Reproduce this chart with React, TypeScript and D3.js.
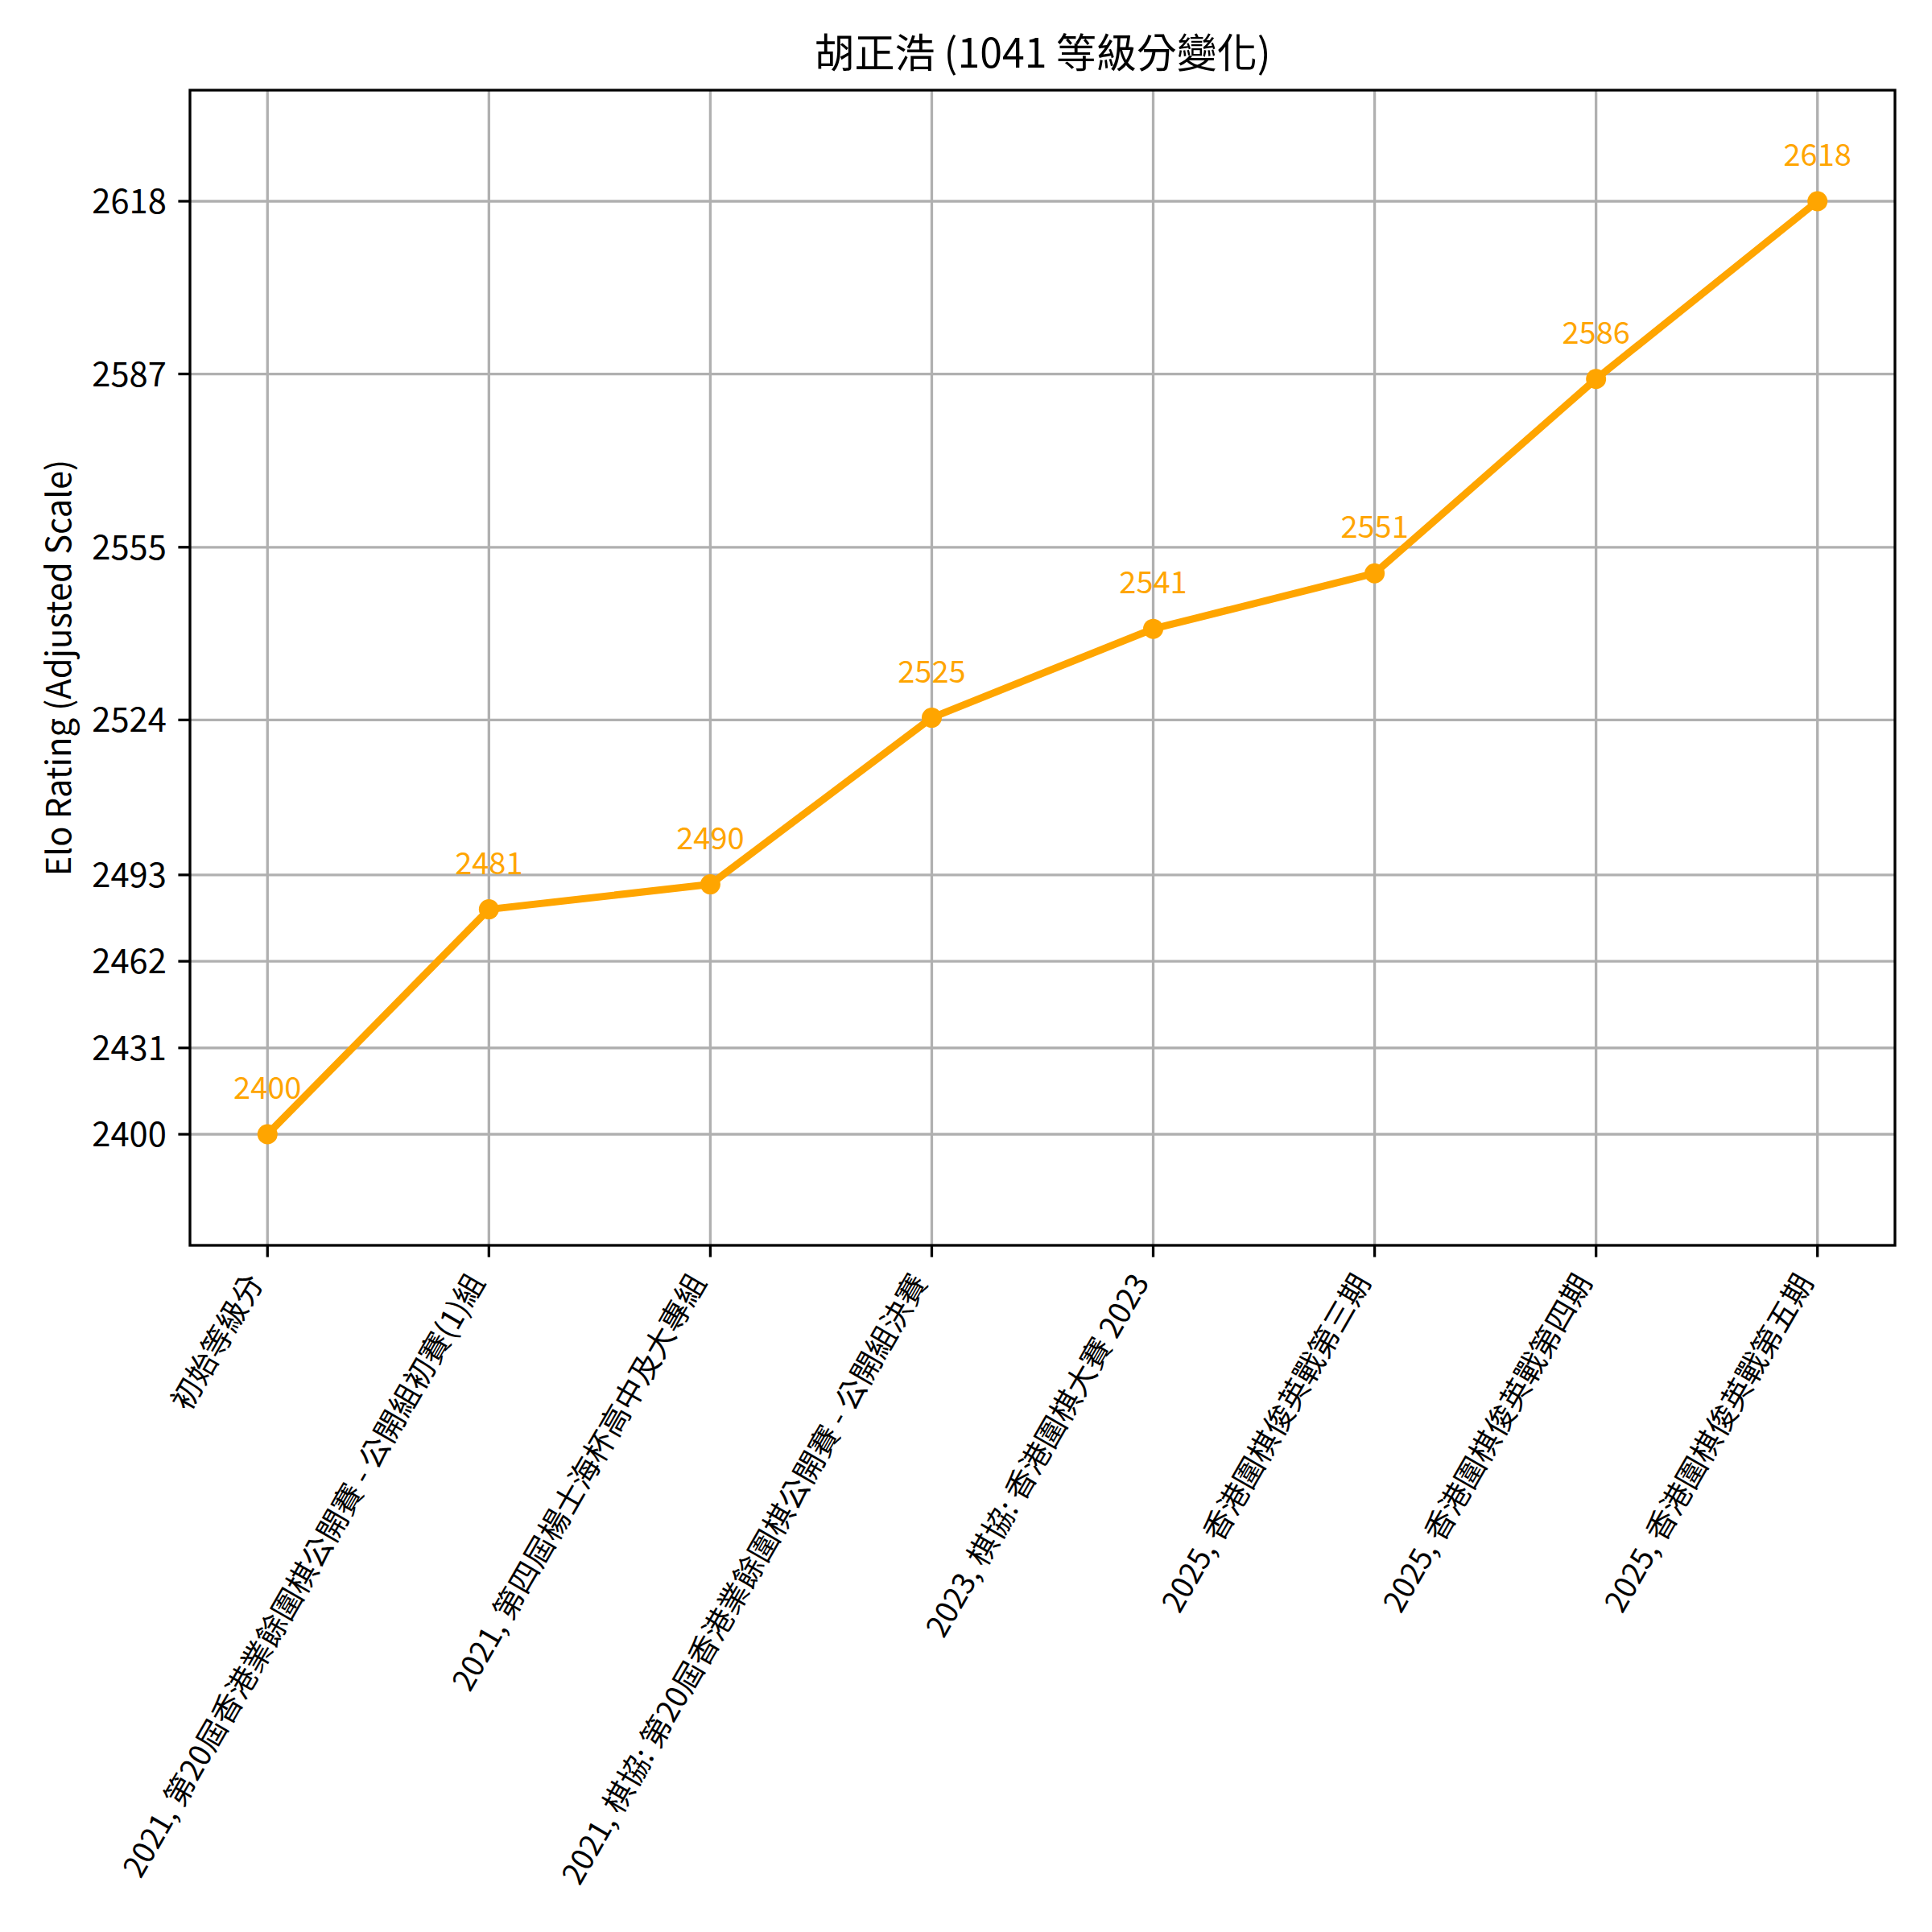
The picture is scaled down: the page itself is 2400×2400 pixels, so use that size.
import React from "react";
import * as d3 from "d3";

const title = "胡正浩 (1041 等級分變化)";
const yAxisLabel = "Elo Rating (Adjusted Scale)";
const categories = [
  "初始等級分",
  "2021, 第20屆香港業餘圍棋公開賽 - 公開組初賽(1)組",
  "2021, 第四屆楊士海杯高中及大專組",
  "2021, 棋協: 第20屆香港業餘圍棋公開賽 - 公開組決賽",
  "2023, 棋協: 香港圍棋大賽 2023",
  "2025, 香港圍棋俊英戰第三期",
  "2025, 香港圍棋俊英戰第四期",
  "2025, 香港圍棋俊英戰第五期",
];
const ratings = [2400, 2481, 2490, 2525, 2541, 2551, 2586, 2618];
const yTickValues = [2400, 2431.1, 2462.3, 2493.4, 2524.6, 2555.7, 2586.9, 2618];
const yTickLabels = ["2400", "2431", "2462", "2493", "2524", "2555", "2587", "2618"];
// adjusted scale: domain breakpoints (values above the break are stretched 2x)
const yDomain = [2360, 2500, 2638];

const FONT = "'Noto Sans CJK TC', 'Noto Sans', sans-serif";

export default function App() {
  const W = 2400, H = 2400;
  const left = 236, right = 2354, top = 112, bottom = 1547;
  const lowSpan = yDomain[1] - yDomain[0];
  const highSpan = (yDomain[2] - yDomain[1]) * 2;
  const pxPer = (bottom - top) / (lowSpan + highSpan);
  const x = d3.scaleLinear().domain([-0.35, categories.length - 1 + 0.35]).range([left, right]);
  const y = d3.scaleLinear().domain(yDomain).range([bottom, bottom - lowSpan * pxPer, top]);

  const pts = ratings.map((r, i) => [x(i), y(r)] as [number, number]);
  const line = d3.line()(pts) || "";

  const tickLen = 14.6;
  const pad = 14.6;
  const gridColor = "#b0b0b0";
  const orange = "#FFA500";
  const fs = 41.67;
  const xfs = 37.5;
  const asc = 0.88 * xfs, desc = 0.12 * xfs;
  const rot = 60;
  const sinR = Math.sin((rot * Math.PI) / 180), cosR = Math.cos((rot * Math.PI) / 180);

  return (
    <svg width={W} height={H} style={{ position: "absolute", left: 0, top: 0, background: "#fff" }}>
      <rect x={0} y={0} width={W} height={H} fill="#fff" />
      {/* grid */}
      {categories.map((_, i) => (
        <line key={"gx" + i} x1={x(i)} x2={x(i)} y1={top} y2={bottom} stroke={gridColor} strokeWidth={3.3} />
      ))}
      {yTickValues.map((v, i) => (
        <line key={"gy" + i} x1={left} x2={right} y1={y(v)} y2={y(v)} stroke={gridColor} strokeWidth={3.3} />
      ))}
      {/* data line */}
      <path d={line} fill="none" stroke={orange} strokeWidth={9} strokeLinejoin="round" strokeLinecap="square" />
      {pts.map((p, i) => (
        <circle key={"pt" + i} cx={p[0]} cy={p[1]} r={12.5} fill={orange} />
      ))}
      {pts.map((p, i) => (
        <text key={"lb" + i} x={p[0]} y={p[1] - 44} textAnchor="middle" fontFamily={FONT} fontSize={38} fill={orange}>
          {ratings[i]}
        </text>
      ))}
      {/* spines */}
      <rect x={left} y={top} width={right - left} height={bottom - top} fill="none" stroke="#000" strokeWidth={3.3} />
      {/* y ticks */}
      {yTickValues.map((v, i) => (
        <g key={"yt" + i}>
          <line x1={left - tickLen} x2={left} y1={y(v)} y2={y(v)} stroke="#000" strokeWidth={3.3} />
          <text x={left - tickLen - pad} y={y(v)} dy="0.36em" textAnchor="end" fontFamily={FONT} fontSize={fs} fill="#000">
            {yTickLabels[i]}
          </text>
        </g>
      ))}
      {/* x ticks */}
      {categories.map((c, i) => {
        const tx = x(i);
        const ax = tx - sinR * desc;
        const ay = bottom + tickLen + pad + cosR * asc;
        return (
          <g key={"xt" + i}>
            <line x1={tx} x2={tx} y1={bottom} y2={bottom + tickLen} stroke="#000" strokeWidth={3.3} />
            <text x={ax} y={ay} textAnchor="end" fontFamily={FONT} fontSize={xfs} fill="#000" transform={`rotate(-${rot} ${ax} ${ay})`}>
              {c}
            </text>
          </g>
        );
      })}
      {/* y label */}
      <text x={88} y={(top + bottom) / 2} textAnchor="middle" fontFamily={FONT} fontSize={fs} fill="#000" transform={`rotate(-90 88 ${(top + bottom) / 2})`}>
        {yAxisLabel}
      </text>
      {/* title */}
      <text x={(left + right) / 2} y={84} textAnchor="middle" fontFamily={FONT} fontSize={50} fill="#000">
        {title}
      </text>
    </svg>
  );
}
